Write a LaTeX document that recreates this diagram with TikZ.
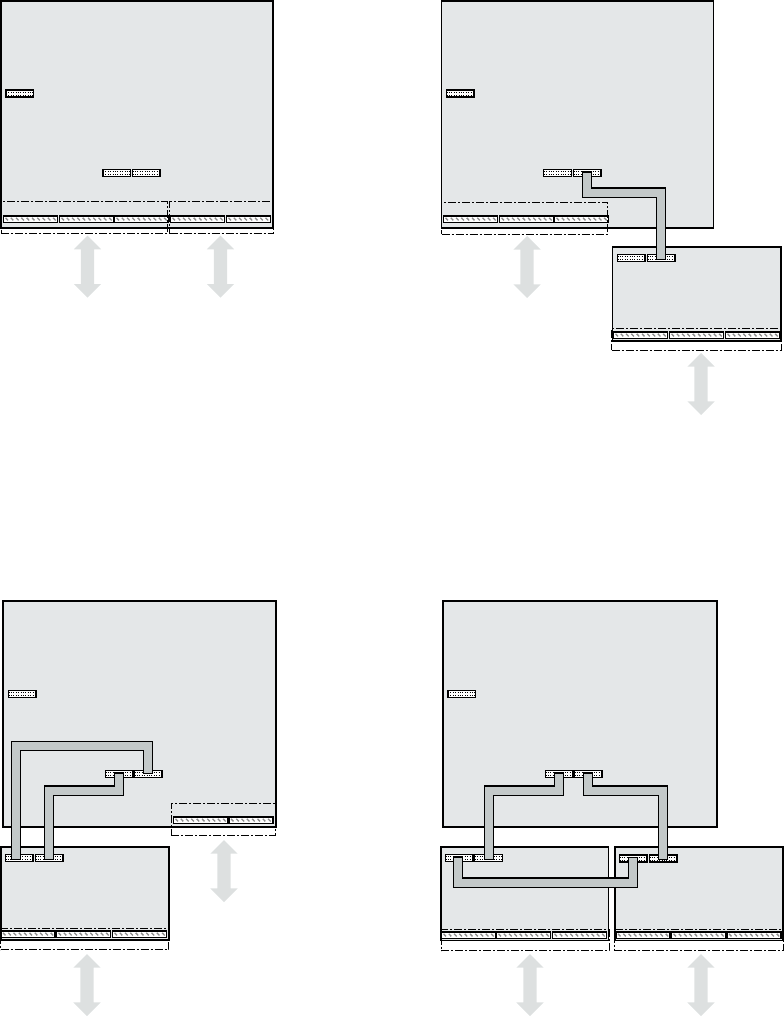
\documentclass[tikz,border=0pt]{standalone}
\usetikzlibrary{shapes.arrows}
\definecolor{boardgray}{HTML}{E4E7E8}
\definecolor{arrowgray}{HTML}{DDE0E0}
\definecolor{cablegray}{HTML}{C3C9C9}
\definecolor{slotgray}{HTML}{8C8C8C}
\tikzset{
	boardbox/.style={draw=black, fill=boardgray, line width=1.8pt, inner sep=0pt, outer sep=0pt, anchor=north west},
	header/.style={draw=black, fill=white, line width=1.1pt, inner sep=0pt, outer sep=0pt, minimum width=27.5pt, minimum height=7pt, anchor=north west,
		path picture={
			\draw[black, line width=1pt, dash pattern=on 1pt off 1.4pt] ([yshift=1.5pt]path picture bounding box.west) -- ([yshift=1.5pt]path picture bounding box.east) ;
			\draw[black, line width=1pt, dash pattern=on 1pt off 1.4pt] ([yshift=-1.5pt]path picture bounding box.west) -- ([yshift=-1.5pt]path picture bounding box.east) ;
		}},
	slot/.style={draw=black, fill=white, line width=1.1pt, inner sep=0pt, outer sep=0pt, minimum width=#1, minimum height=6.6pt, anchor=north west,
		path picture={
			\foreach \k in {0,...,10}
				\draw[slotgray, line width=1.3pt] ([xshift=\k*5.3pt+2pt, yshift=1.5pt]path picture bounding box.west) -- ++(2.5,2.6) ;
		}},
	slot/.default=54pt,
	zone/.style={draw=black, line width=1pt, inner sep=0pt, outer sep=0pt, dash pattern=on 8pt off 2pt on 2pt off 2pt, anchor=north west},
	updown/.style={double arrow, rotate=90, fill=arrowgray, draw=none, inner sep=6.5pt, minimum height=62pt, double arrow head extend=7pt},
	ribbon/.style={draw=black, line width=1.1pt, double=cablegray, double distance=8pt, line cap=rect, line join=miter},
}
\begin{document}
\begin{tikzpicture}[x=1pt, y=-1pt]
	\useasboundingbox (0,0) rectangle (784,1017) ;
	% top left
	\node (boarda)[boardbox, minimum width=272pt, minimum height=227pt] at (1,1) {} ;
	\node (a1)[header] at (6,90) {} ;
	\node (a2)[header] at (103,169.5) {} ;
	\node (a3)[header] at (132.5,169.5) {} ;
	\node (as1)[slot] at (3.5,216) {} ;
	\node (as2)[slot] at (59.5,216) {} ;
	\node (as3)[slot] at (114.5,216) {} ;
	\node (as4)[slot] at (170.5,216) {} ;
	\node (as5)[slot=44pt] at (226.5,216) {} ;
	\node (az1)[zone, minimum width=166pt, minimum height=32pt] at (1,201.5) {} ;
	\node (az2)[zone, minimum width=104pt, minimum height=32pt] at (169.5,201.5) {} ;
	\node (au1)[updown] at (87.5,266.7) {} ;
	\node (au2)[updown] at (220.5,266.7) {} ;
	% top right
	\node (boardb)[boardbox, minimum width=272pt, minimum height=227pt] at (441.5,1) {} ;
	\node (b1)[header] at (446.5,90) {} ;
	\node (b2)[header] at (543.7,169.5) {} ;
	\node (b3)[header] at (573.5,169.5) {} ;
	\node (bs1)[slot] at (443.5,216) {} ;
	\node (bs2)[slot] at (499.5,216) {} ;
	\node (bs3)[slot] at (554.5,216) {} ;
	\node (bz)[zone, minimum width=166pt, minimum height=32pt] at (441.5,202) {} ;
	\node (bu)[updown] at (527,267) {} ;
	\node (boardc)[boardbox, minimum width=168.5pt, minimum height=94pt] at (612.5,247) {} ;
	\node (c1)[header] at (617.5,254.5) {} ;
	\node (c2)[header] at (647.5,254.5) {} ;
	\node (cs1)[slot] at (613.5,332) {} ;
	\node (cs2)[slot] at (669.5,332) {} ;
	\node (cs3)[slot] at (725.5,332) {} ;
	\node (cz)[zone, minimum width=170pt, minimum height=22pt] at (611.5,328) {} ;
	\node (cu)[updown] at (701,384) {} ;
	\draw[ribbon] (b3.south) -- ++(0,16) -| (c2.north) ;
	% bottom left
	\node (boardd)[boardbox, minimum width=273pt, minimum height=226pt] at (3,601) {} ;
	\node (d1)[header] at (8.5,690.5) {} ;
	\node (d2)[header] at (105.5,770.5) {} ;
	\node (d3)[header] at (134.5,770.5) {} ;
	\node (ds1)[slot] at (173.5,817) {} ;
	\node (ds2)[slot=44pt] at (229,817) {} ;
	\node (dz)[zone, minimum width=104pt, minimum height=32pt] at (171,803) {} ;
	\node (du)[updown] at (224,871) {} ;
	\node (boarde)[boardbox, minimum width=168pt, minimum height=93pt] at (1,847) {} ;
	\node (e1)[header] at (5.5,854.5) {} ;
	\node (e2)[header] at (35.5,854.5) {} ;
	\node (es1)[slot] at (1,931) {} ;
	\node (es2)[slot] at (56.5,931) {} ;
	\node (es3)[slot] at (112.5,931) {} ;
	\node (ez)[zone, minimum width=168pt, minimum height=21pt] at (0.5,928.5) {} ;
	\node (eu)[updown] at (87,985) {} ;
	\draw[ribbon] ([yshift=1.5pt]d3.north) -- ++(0,-23) -| ([xshift=-3.5pt]e1.north) ;
	\draw[ribbon] (d2.south) -- ++(0,13) -| (e2.north) ;
	% bottom right
	\node (boardf)[boardbox, minimum width=274pt, minimum height=226pt] at (443,601) {} ;
	\node (f1)[header] at (448,690.5) {} ;
	\node (f2)[header] at (545.5,770.5) {} ;
	\node (f3)[header] at (574.5,770.5) {} ;
	\node (boardg)[boardbox, minimum width=167.5pt, minimum height=93.5pt] at (441,847) {} ;
	\node (g1)[header] at (445.5,854.5) {} ;
	\node (g2)[header] at (474.7,854.5) {} ;
	\node (gs1)[slot] at (441.5,932) {} ;
	\node (gs2)[slot] at (496.5,932) {} ;
	\node (gs3)[slot] at (552.5,932) {} ;
	\node (gz)[zone, minimum width=168pt, minimum height=21pt] at (441,929.5) {} ;
	\node (gu)[updown] at (530,985) {} ;
	\node (boardh)[boardbox, minimum width=168pt, minimum height=93.5pt] at (615,847) {} ;
	\node (h1)[header] at (619.5,855) {} ;
	\node (h2)[header] at (649.5,855) {} ;
	\node (hs1)[slot] at (616,932) {} ;
	\node (hs2)[slot] at (671.5,932) {} ;
	\node (hs3)[slot] at (727,932) {} ;
	\node (hz)[zone, minimum width=169pt, minimum height=21pt] at (614,929.5) {} ;
	\node (hu)[updown] at (701,985) {} ;
	\draw[ribbon] (f2.south) -- ++(0,13) -| ([xshift=.5pt]g2.north) ;
	\draw[ribbon] (f3.south) -- ++(0,13) -| (h2.north) ;
	\draw[ribbon] ([xshift=-1.5pt]g1.south) -- ++(0,21) -| (h1.south) ;
\end{tikzpicture}
\end{document}
